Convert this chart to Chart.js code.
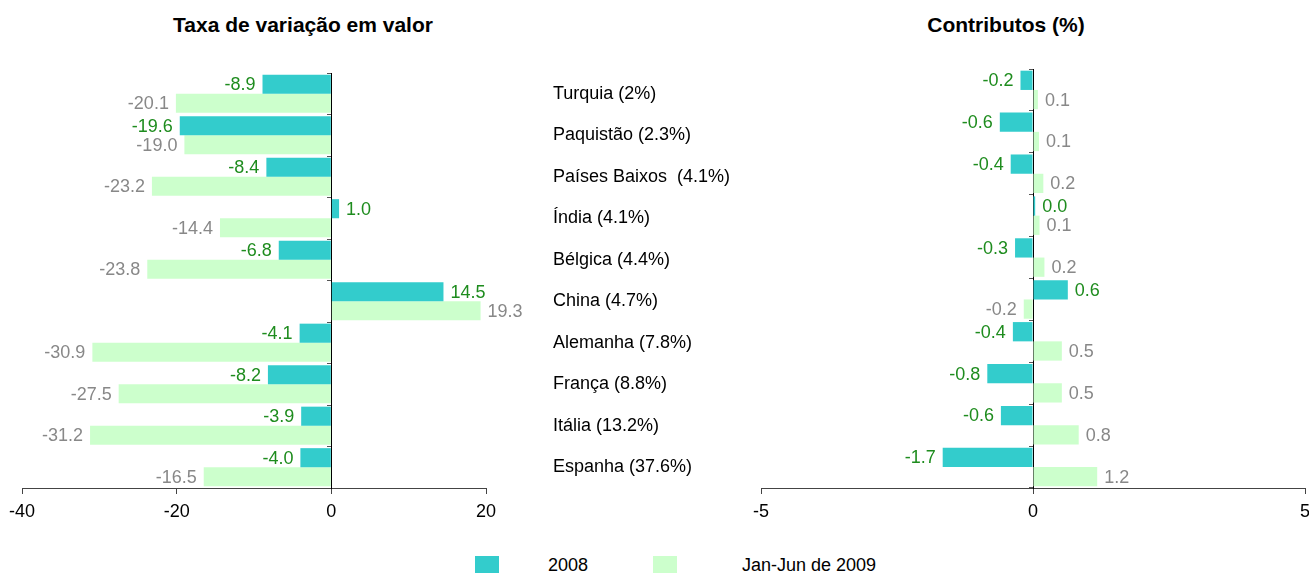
<!DOCTYPE html>
<html>
<head>
<meta charset="utf-8">
<script src="https://cdn.jsdelivr.net/npm/chart.js@4/dist/chart.umd.min.js"></script>
<style>
  html, body { margin: 0; padding: 0; background: #fff; overflow: hidden; }
  body { width: 1309px; height: 575px; position: relative; font-family: "Liberation Sans", Arial, sans-serif; }
  canvas { position: absolute; top: 0; }
  .title { position: absolute; font-weight: bold; font-size: 21px; line-height: 25px; text-align: center; color: #000; }
  .leg-box { position: absolute; width: 24px; height: 17px; top: 556px; }
  .leg-txt { position: absolute; font-size: 18px; line-height: 20px; top: 555px; color: #000; }
</style>
</head>
<body>
<div class="title" style="left:0; width:606px; top:12px;">Taxa de variação em valor</div>
<div class="title" style="left:856px; width:300px; top:12px;">Contributos (%)</div>
<canvas id="chart1" width="740" height="545" style="left:0"></canvas>
<canvas id="chart2" width="590" height="545" style="left:740px"></canvas>
<div class="leg-box" style="left:475px; background:#33CCCC"></div>
<div class="leg-txt" style="left:548px">2008</div>
<div class="leg-box" style="left:653px; background:#CCFFCC"></div>
<div class="leg-txt" style="left:742px">Jan-Jun de 2009</div>
<script>
const countries = ["Turquia (2%)", "Paquistão (2.3%)", "Países Baixos  (4.1%)", "Índia (4.1%)",
  "Bélgica (4.4%)", "China (4.7%)", "Alemanha (7.8%)", "França (8.8%)", "Itália (13.2%)", "Espanha (37.6%)"];

// taxa de variação em valor
const taxa2008 = [-8.9, -19.6, -8.4, 1.0, -6.8, 14.5, -4.1, -8.2, -3.9, -4.0];
const taxa2009 = [-20.1, -19.0, -23.2, -14.4, -23.8, 19.3, -30.9, -27.5, -31.2, -16.5];

// contributos (%)
const contrib2008 = [-0.23, -0.61, -0.41, 0.04, -0.33, 0.64, -0.37, -0.84, -0.59, -1.66];
const contrib2009 = [0.09, 0.11, 0.19, 0.12, 0.21, -0.17, 0.53, 0.53, 0.84, 1.18];

const FONT = '"Liberation Sans", Arial, sans-serif';
const C2008 = "#33CCCC", C2009 = "#CCFFCC";
const L2008 = "#1E8C1E", L2009 = "#888888";

const valueLabels = {
  id: "valueLabels",
  afterDatasetsDraw(chart) {
    const ctx = chart.ctx;
    ctx.save();
    ctx.font = "18px " + FONT;
    ctx.textBaseline = "middle";
    chart.data.datasets.forEach((ds, i) => {
      const meta = chart.getDatasetMeta(i);
      meta.data.forEach((bar, j) => {
        const v = ds.data[j];
        ctx.fillStyle = ds.labelColor;
        ctx.textAlign = v < 0 ? "right" : "left";
        ctx.fillText(v.toFixed(1), bar.x + (v < 0 ? -7 : 7), bar.y + 1);
      });
    });
    ctx.restore();
  },
};

function makeConfig(d1, d2, min, max, step, padding, withLabels) {
  const scales = {
    x: {
      type: "linear",
      min, max,
      grid: { drawOnChartArea: false, drawTicks: true, tickLength: 6, color: "#444" },
      border: { display: true, color: "#444" },
      ticks: { stepSize: step, padding: 7, color: "#000", font: { size: 18, family: FONT } },
      afterFit: (s) => { s.height = 40; },
    },
    y: {
      type: "category",
      position: { x: 0 },
      offset: true,
      grid: { offset: true, drawOnChartArea: false, tickLength: 4, color: "#555" },
      border: { display: true, color: "#000" },
      ticks: { display: false },
    },
  };
  if (withLabels) {
    // country names, between the two charts
    scales.yl = {
      type: "category",
      position: "right",
      offset: true,
      grid: { display: false },
      border: { display: false },
      ticks: { padding: 59, color: "#000", font: { size: 18, family: FONT } },
      afterFit: (s) => { s.width = 254; s.paddingTop = 0; s.paddingBottom = 0; },
    };
  }
  return {
    type: "bar",
    data: {
      labels: countries,
      datasets: [
        { label: "2008", data: d1, backgroundColor: C2008, labelColor: L2008,
          categoryPercentage: 0.92, barPercentage: 1.0 },
        { label: "Jan-Jun de 2009", data: d2, backgroundColor: C2009, labelColor: L2009,
          categoryPercentage: 0.92, barPercentage: 1.0 },
      ],
    },
    options: {
      indexAxis: "y",
      responsive: false,
      animation: false,
      layout: { padding },
      plugins: { legend: { display: false }, title: { display: false }, tooltip: { enabled: false } },
      scales,
    },
    plugins: [valueLabels],
  };
}

new Chart(document.getElementById("chart1"),
  makeConfig(taxa2008, taxa2009, -40, 20, 20, { left: 22, right: 0, top: 73, bottom: 17 }, true));
new Chart(document.getElementById("chart2"),
  makeConfig(contrib2008, contrib2009, -5, 5, 5, { left: 21, right: 25, top: 69, bottom: 17 }, false));
</script>
</body>
</html>
